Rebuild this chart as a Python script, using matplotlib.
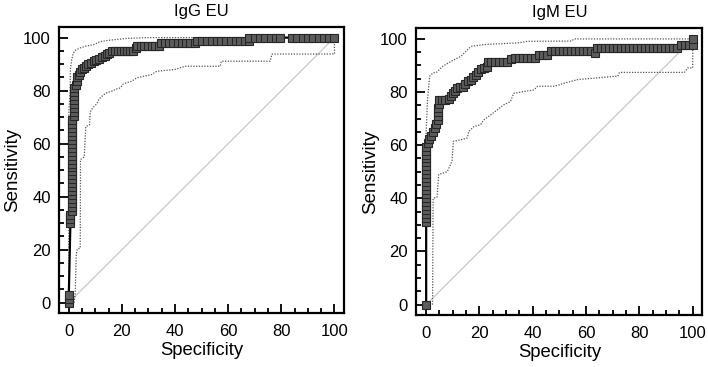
import matplotlib
matplotlib.use("Agg")
import matplotlib.pyplot as plt
from matplotlib.ticker import MultipleLocator

plt.rcParams["font.family"] = ["Liberation Sans", "DejaVu Sans"]

# ------------------------------------------------------------
# ROC points (x = 100 - specificity, y = sensitivity)
# ------------------------------------------------------------

igg_fpr = [0, 0, 0,
           0.6, 0.6, 0.6,
           1.1, 1.1, 1.1, 1.1, 1.1, 1.1, 1.1, 1.1, 1.1, 1.1, 1.1, 1.1,
           1.1, 1.1, 1.1, 1.1, 1.1, 1.1, 1.1, 1.1, 1.1, 1.1, 1.1, 1.1,
           1.8, 1.8, 1.8, 1.8, 1.8, 1.8, 1.8, 1.8,
           2.6, 3.1, 3.1, 3.7, 4.3, 4.9, 5.6, 6.3, 7.2, 8.2, 9.3, 10.4,
           11.5, 12.5, 13.5, 14.4, 15.3, 16.3, 17.4, 18.5, 19.6, 20.7, 21.8, 22.9,
           24.0, 25.3, 25.6, 27.0, 28.4, 29.8, 31.2, 32.6, 34.0, 34.6, 36.2, 37.8,
           39.4, 41.0, 42.6, 44.2, 45.8, 47.4, 48.4, 50.2, 52.0, 53.8, 55.6, 57.4,
           59.2, 61.0, 62.8, 64.6, 66.4, 68.0, 68.0, 70.0, 72.0, 74.0, 76.0, 78.0,
           79.5, 84.0, 86.0, 88.0, 90.0, 92.0, 94.0, 96.0, 98.0, 100.0]
igg_tpr = [0, 1.5, 3,
           30, 31.5, 33,
           34.5, 36, 37.5, 39, 40.5, 42, 43.5, 45, 46.5, 48, 49.5, 51,
           52.5, 54, 55.5, 57, 58.5, 60, 61.5, 63, 64.5, 66, 67.5, 69,
           70.5, 72, 73.5, 75, 76.5, 78, 79.5, 81,
           82, 83.5, 85, 86, 87, 88, 88.5, 89.3, 90, 90.5, 91, 91.5,
           92, 92.5, 93.2, 93.8, 94.3, 94.8, 95.1, 95.1, 95.1, 95.1, 95.1, 95.1,
           95.1, 95.9, 96.8, 96.8, 96.8, 96.8, 96.8, 96.8, 96.8, 98, 98, 98,
           98, 98, 98, 98, 98, 98, 98.9, 98.9, 98.9, 98.9, 98.9, 98.9,
           98.9, 98.9, 98.9, 98.9, 98.9, 98.9, 100, 100, 100, 100, 100, 100,
           100, 100, 100, 100, 100, 100, 100, 100, 100, 100]

igg_upper_x = [0, 0, 0.5, 0.6, 1.1, 1.7, 2.6, 4.2, 6.5, 9.3, 11.8, 15.0, 21.8, 30.0, 100]
igg_upper_y = [0, 72, 80, 88, 91.7, 94.2, 95.3, 96.1, 96.8, 97.3, 98.5, 99.0, 99.7, 100, 100]

igg_lower_x = [2.0, 2.4, 2.8, 3.2, 4.3, 4.4, 5.8, 6.4, 7.8, 8.1, 9.0, 10.5, 11.5, 13.2,
               14.3, 16.8, 17.5, 19.3, 20.5, 21.8, 23.5, 25.6, 28.5, 31.0, 33.1, 40.0,
               43.8, 57.0, 57.4, 75.8, 76.5, 100, 100]
igg_lower_y = [0, 3, 18, 20.3, 20.6, 54, 55, 66.5, 67, 72, 73.5, 75, 77, 78.5,
               79.2, 80, 80.5, 81, 82.5, 83, 83.5, 84.8, 85.5, 86, 87.3, 88,
               89.2, 89.2, 91.1, 91.1, 93.8, 93.8, 100]

igm_fpr = [0,
           0, 0, 0, 0, 0, 0, 0, 0, 0, 0, 0, 0, 0, 0, 0, 0, 0, 0, 0, 0,
           0.6, 1.2, 1.8, 2.5, 3.2, 3.8, 4.4, 4.4, 4.6, 4.6, 4.7, 4.8,
           6.0, 7.2, 8.5, 9.3, 10.0, 10.7, 11.5, 12.6, 13.8, 14.6, 15.6, 16.8,
           17.6, 18.6, 19.5, 20.6, 21.8, 23.0, 23.3, 24.5, 26.0, 27.5, 29.0, 30.5,
           32.0, 33.5, 35.0, 36.5, 38.0, 39.5, 41.0, 42.5, 44.0, 45.5, 47.0, 48.5,
           50.0, 51.5, 53.0, 54.5, 56.0, 57.5, 59.0, 60.5, 62.0, 63.3, 64.0, 65.5,
           67.0, 68.5, 70.0, 71.5, 73.0, 74.5, 76.0, 77.5, 79.0, 80.5, 82.0, 83.5,
           85.0, 86.5, 88.0, 89.5, 91.0, 92.5, 94.0, 95.5, 97.0, 98.5, 100, 100]
igm_tpr = [0,
           31, 32.5, 34, 35.5, 37, 38.5, 40, 41.5, 43, 44.5, 46, 47.5, 49, 50.5, 52, 53.5, 55, 56.5, 58, 59.5,
           61, 62.5, 63.5, 65, 66.5, 68, 69.5, 71, 72.5, 74, 75.5, 77,
           77, 77, 77.5, 78.5, 79.5, 80.5, 81.5, 82, 82, 83, 84, 84.5,
           85.5, 86.5, 87.5, 88.5, 89, 89.5, 91.2, 91.5, 91.5, 91.5, 91.5, 91.5,
           92.5, 92.8, 92.8, 92.8, 92.8, 92.8, 92.8, 94, 94, 94, 95.3, 95.3,
           95.3, 95.3, 95.3, 95.3, 95.3, 95.3, 95.3, 95.3, 95.3, 94.8, 96.5, 96.5,
           96.5, 96.5, 96.5, 96.5, 96.5, 96.5, 96.5, 96.5, 96.5, 96.5, 96.5, 96.5,
           96.5, 96.5, 96.5, 96.5, 96.5, 96.5, 96.5, 97.7, 97.7, 97.7, 97.7, 100]

igm_upper_x = [0, 0, 0.5, 1.3, 2.5, 4.0, 6.2, 9.4, 13.1, 15.6, 16.9, 21.9, 34.3, 38.1, 54.5, 55.5, 100]
igm_upper_y = [0, 65, 77, 85.9, 87.2, 87.5, 89.7, 91.6, 93.5, 96, 97.2, 97.9, 98.5, 99.1, 99.2, 100, 100]

igm_lower_x = [2.4, 2.6, 4.1, 4.7, 7.9, 9.7, 10.2, 12.9, 15.4, 16.0, 17.9, 20.4, 21.6,
               24.2, 26.8, 29.1, 31.6, 32.8, 36.6, 40.4, 41.8, 48.2, 52.0, 56.9, 71.9,
               72.5, 96.9, 98.1, 100, 100]
igm_lower_y = [0, 40, 40.5, 49, 50, 54, 61.5, 62, 62.7, 65.2, 67, 67.7, 69.5,
               71.4, 73.4, 75.2, 76.4, 79.5, 80.2, 80.8, 82.2, 82.2, 83.4, 84.7, 86,
               87.4, 87.4, 89.1, 89.1, 100]

panels = [
    ("IgG EU", igg_fpr, igg_tpr, igg_upper_x, igg_upper_y, igg_lower_x, igg_lower_y),
    ("IgM EU", igm_fpr, igm_tpr, igm_upper_x, igm_upper_y, igm_lower_x, igm_lower_y),
]

fig = plt.figure(figsize=(7.08, 3.67), dpi=100)
axes = [fig.add_axes([0.0833, 0.1471, 0.4026, 0.7793]),
        fig.add_axes([0.5880, 0.1417, 0.4040, 0.7812])]

for ax, (title, fx, fy, ux, uy, lx, ly) in zip(axes, panels):
    ax.plot([0, 100], [0, 100], color="#c8c8c8", lw=0.9, zorder=1)
    ax.plot(ux, uy, color="#555555", lw=0.9, ls=(0, (1, 1.2)), zorder=2)
    ax.plot(lx, ly, color="#555555", lw=0.9, ls=(0, (1, 1.2)), zorder=2)
    ax.plot(fx, fy, color="black", lw=1.6, marker="s", markersize=5.7,
            markerfacecolor="#5c5c5c", markeredgecolor="#262626",
            markeredgewidth=0.8, zorder=3)

    ax.set_xlim(-3.7, 103.6)
    ax.set_ylim(-3.9, 104)
    ax.xaxis.set_major_locator(MultipleLocator(20))
    ax.xaxis.set_minor_locator(MultipleLocator(5))
    ax.yaxis.set_major_locator(MultipleLocator(20))
    ax.yaxis.set_minor_locator(MultipleLocator(5))
    ax.tick_params(which="both", direction="in", top=False, right=False,
                   width=1.3, labelsize=12)
    ax.tick_params(which="major", length=6.5)
    ax.tick_params(which="minor", length=3.5)
    ax.tick_params(axis="x", pad=8)
    ax.tick_params(axis="y", pad=6)
    for sp in ax.spines.values():
        sp.set_linewidth(1.6)

    ax.set_title(title, fontsize=12, pad=8)
    ax.set_xlabel("Specificity", fontsize=13.3, labelpad=2)
    ax.set_ylabel("Sensitivity", fontsize=13.5, labelpad=1)

fig.savefig("out.png", dpi=100)
